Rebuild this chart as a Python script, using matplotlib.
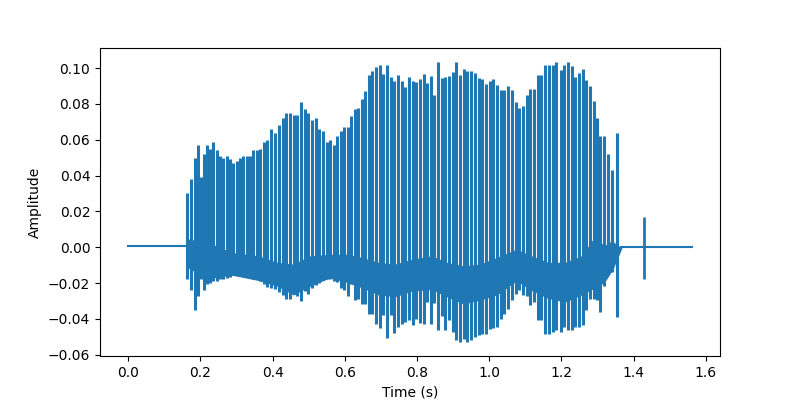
import numpy as np
import matplotlib
matplotlib.use("Agg")
import matplotlib.pyplot as plt

# glottal pulses: time (s), top of the spike, bottom of the dip
pulse_t = [0.1642, 0.1736, 0.1846, 0.1938, 0.2021, 0.2095, 0.2179, 0.2262, 0.2353, 0.2455, 0.2547, 0.2638,
           0.2732, 0.2824, 0.2915, 0.3009, 0.3100, 0.3192, 0.3286, 0.3377, 0.3469, 0.3563, 0.3662, 0.3756,
           0.3856, 0.3967, 0.4069, 0.4180, 0.4282, 0.4382, 0.4484, 0.4587, 0.4687, 0.4797, 0.4891, 0.4991,
           0.5102, 0.5196, 0.5296, 0.5398, 0.5500, 0.5592, 0.5694, 0.5794, 0.5888, 0.5988, 0.6090,
           0.6173, 0.6275, 0.6375, 0.6469, 0.6569, 0.6671, 0.6763, 0.6865, 0.6967, 0.7067, 0.7170, 0.7272,
           0.7372, 0.7466, 0.7576, 0.7676, 0.7779, 0.7881, 0.7981, 0.8083, 0.8185, 0.8285, 0.8388, 0.8479,
           0.8581, 0.8684, 0.8783, 0.8886, 0.8988, 0.9088, 0.9190, 0.9293, 0.9392, 0.9503, 0.9606, 0.9708,
           0.9808, 0.9910, 1.0012, 1.0112, 1.0215, 1.0317, 1.0417, 1.0519, 1.0630, 1.0740, 1.0832,
           1.0934, 1.1037, 1.1137, 1.1247, 1.1341, 1.1441, 1.1543, 1.1646, 1.1756, 1.1856, 1.1978, 1.2078,
           1.2180, 1.2282, 1.2382, 1.2493, 1.2587, 1.2687, 1.2789, 1.2891, 1.2983, 1.3074, 1.3185,
           1.3279, 1.3390, 1.3528]
pulse_hi = [0.030, 0.038, 0.050, 0.057, 0.039, 0.052, 0.057, 0.055, 0.059, 0.054, 0.051, 0.050,
            0.051, 0.049, 0.047, 0.048, 0.050, 0.051, 0.051, 0.051, 0.054, 0.054, 0.055, 0.059,
            0.060, 0.066, 0.064, 0.068, 0.072, 0.075, 0.075, 0.074, 0.074, 0.081, 0.077, 0.075,
            0.071, 0.072, 0.066, 0.065, 0.059, 0.060, 0.057, 0.062, 0.065, 0.067, 0.067,
            0.073, 0.077, 0.078, 0.083, 0.087, 0.096, 0.0985, 0.1007, 0.102, 0.0966, 0.102, 0.095,
            0.093, 0.096, 0.093, 0.0896, 0.095, 0.0926, 0.092, 0.0937, 0.0966, 0.0918, 0.0955, 0.0847,
            0.1034, 0.0944, 0.0952, 0.0955, 0.0978, 0.1034, 0.0963, 0.0996, 0.0981, 0.0985, 0.0974, 0.0944,
            0.094, 0.091, 0.093, 0.094, 0.0907, 0.088, 0.0877, 0.090, 0.088, 0.081, 0.0777,
            0.079, 0.0847, 0.0885, 0.0885, 0.0963, 0.0963, 0.1015, 0.1015, 0.102, 0.1034, 0.0989, 0.102,
            0.1034, 0.101, 0.0952, 0.0974, 0.0993, 0.0933, 0.090, 0.0817, 0.0724, 0.062, 0.062,
            0.052, 0.043, 0.064]
pulse_lo = [-0.018, -0.024, -0.035, -0.027, -0.0175, -0.0236, -0.0207, -0.020, -0.019, -0.019, -0.018, -0.0175,
            -0.017, -0.0166, -0.0156, -0.0156, -0.016, -0.0162, -0.0166, -0.017, -0.0175, -0.018, -0.019, -0.0203,
            -0.022, -0.023, -0.0235, -0.025, -0.0268, -0.0287, -0.029, -0.026, -0.0275, -0.030, -0.0245, -0.026,
            -0.0225, -0.021, -0.020, -0.0184, -0.0175, -0.018, -0.0186, -0.0194, -0.0225, -0.024, -0.0274,
            -0.0203, -0.0296, -0.029, -0.0318, -0.0315, -0.0374, -0.0374, -0.0426, -0.0449, -0.038, -0.0505, -0.038,
            -0.0479, -0.0445, -0.0426, -0.0417, -0.0408, -0.0436, -0.0399, -0.0423, -0.043, -0.0305, -0.043, -0.031,
            -0.0464, -0.0385, -0.046, -0.0408, -0.0473, -0.052, -0.0529, -0.051, -0.0529, -0.052, -0.0501, -0.0492,
            -0.0482, -0.0482, -0.0455, -0.045, -0.0445, -0.040, -0.037, -0.0343, -0.0296, -0.0259, -0.0237,
            -0.0268, -0.0274, -0.0324, -0.0305, -0.0404, -0.0404, -0.0486, -0.0486, -0.0473, -0.0464, -0.0473, -0.0445,
            -0.0464, -0.0464, -0.0445, -0.0445, -0.0436, -0.0352, -0.0287, -0.0287, -0.0296, -0.0361, -0.0218,
            -0.0147, -0.0138, -0.039]

# dense ringing between the pulses, outline read at a few times
band_t = [0.163, 0.167, 0.222, 0.287, 0.361, 0.412, 0.458, 0.504, 0.559, 0.605, 0.647, 0.693, 0.739,
          0.785, 0.841, 0.882, 0.928, 0.974, 1.021, 1.076, 1.117, 1.163, 1.210, 1.256, 1.293, 1.318,
          1.340, 1.357, 1.365]
band_hi = [0.0, 0.004, 0.002, -0.0035, -0.0054, -0.009, -0.010, -0.0054, -0.0045, -0.0045, -0.0063, -0.009, -0.010,
           -0.0073, -0.0054, -0.009, -0.011, -0.010, -0.0063, -0.0017, -0.0054, -0.009, -0.009, -0.0054, 0.005, 0.0,
           0.003, 0.0, 0.0]
band_lo = [0.0, -0.011, -0.017, -0.015, -0.018, -0.021, -0.026, -0.021, -0.0165, -0.019, -0.022, -0.026, -0.027,
           -0.024, -0.023, -0.027, -0.031, -0.029, -0.026, -0.018, -0.0235, -0.028, -0.030, -0.026, -0.022, -0.019,
           -0.012, -0.004, 0.0]

# silence before and after, and the click near 1.43 s
quiet_t = [0.0, 0.163]
quiet_v = [0.0005, 0.0005]
tail_t = [1.365, 1.561]
tail_v = [0.0002, 0.0002]
click_t = [1.4284]
click_hi = [0.017]
click_lo = [-0.018]

fig, ax = plt.subplots(figsize=(8, 4))
ax.fill_between(band_t, band_lo, band_hi, color="C0", lw=1.5)
ax.vlines(pulse_t, pulse_lo, pulse_hi, color="C0", lw=2.2)
ax.plot(quiet_t, quiet_v, color="C0")
ax.plot(tail_t, tail_v, color="C0")
ax.vlines(click_t, click_lo, click_hi, color="C0", lw=2.0)
ax.set_xlabel("Time (s)")
ax.set_ylabel("Amplitude")
plt.savefig("out.png")
plt.close()
